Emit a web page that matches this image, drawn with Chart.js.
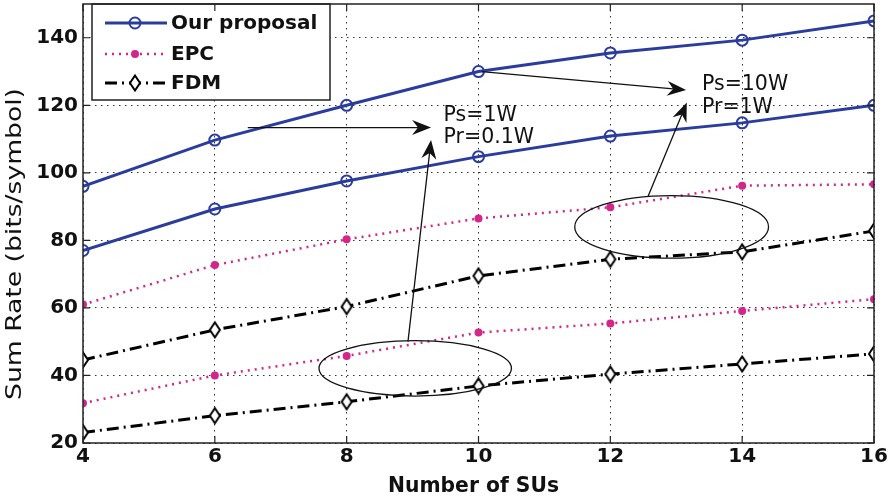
<!DOCTYPE html>
<html>
<head>
<meta charset="utf-8">
<script src="https://cdn.jsdelivr.net/npm/chart.js@4.4.1/dist/chart.umd.min.js"></script>
<style>
  html, body { margin: 0; padding: 0; background: #fff; }
  #wrap { width: 892px; height: 502px; }
</style>
</head>
<body>
<div id="wrap"><canvas id="c" width="892" height="502"></canvas></div>
<script>
// ---- data ----
const numSUs   = [4, 6, 8, 10, 12, 14, 16];
const ourHigh  = [96, 109.7, 120, 130, 135.5, 139.3, 145];   // Ps=10W, Pr=1W
const ourLow   = [77, 89.3, 97.6, 104.8, 110.9, 114.8, 120]; // Ps=1W, Pr=0.1W
const epcHigh  = [61, 72.7, 80.3, 86.5, 89.8, 96.2, 96.6];
const epcLow   = [31.8, 40, 45.8, 52.7, 55.4, 59.1, 62.6];
const fdmHigh  = [44.6, 53.5, 60.4, 69.5, 74.4, 76.6, 82.8];
const fdmLow   = [23.1, 28.1, 32.2, 36.9, 40.4, 43.4, 46.4];
const xTicks   = [4, 6, 8, 10, 12, 14, 16];
const yTicks   = [20, 40, 60, 80, 100, 120, 140];
const legendLabels = ['Our proposal', 'EPC', 'FDM'];
const xTitle = 'Number of SUs';
const yTitle = 'Sum Rate (bits/symbol)';
const calloutLow  = ['Ps=1W', 'Pr=0.1W'];
const calloutHigh = ['Ps=10W', 'Pr=1W'];

// ---- styles ----
const BLUE = '#2a3c9e';
const MAGENTA = '#d4268a';
const FONT = 'DejaVu Sans';

function diamondMarker() {
  const c = document.createElement('canvas');
  c.width = 16; c.height = 20;
  const g = c.getContext('2d');
  g.beginPath();
  g.moveTo(8, 2.5); g.lineTo(13, 10); g.lineTo(8, 17.5); g.lineTo(3, 10);
  g.closePath();
  g.fillStyle = '#fff'; g.fill();
  g.lineWidth = 2; g.strokeStyle = '#000'; g.stroke();
  return c;
}
const DIAMOND = diamondMarker();

const pts = arr => numSUs.map((x, i) => ({ x, y: arr[i] }));

const ourStyle = { borderColor: BLUE, borderWidth: 3, pointStyle: 'circle', pointRadius: 5.5,
  pointBorderWidth: 2, pointBorderColor: BLUE, pointBackgroundColor: 'rgba(0,0,0,0)', tension: 0 };
const epcStyle = { borderColor: MAGENTA, borderWidth: 2.5, borderDash: [2, 5], pointStyle: 'circle',
  pointRadius: 4, pointBorderWidth: 0, pointBackgroundColor: MAGENTA, tension: 0 };
const fdmStyle = { borderColor: '#000', borderWidth: 3, borderDash: [12, 5, 2, 5], pointStyle: DIAMOND,
  pointRadius: 8, tension: 0 };

const datasets = [
  Object.assign({ label: legendLabels[0], data: pts(ourHigh) }, ourStyle),
  Object.assign({ label: legendLabels[0] + ' (low)', data: pts(ourLow) }, ourStyle),
  Object.assign({ label: legendLabels[1], data: pts(epcHigh) }, epcStyle),
  Object.assign({ label: legendLabels[1] + ' (low)', data: pts(epcLow) }, epcStyle),
  Object.assign({ label: legendLabels[2], data: pts(fdmHigh) }, fdmStyle),
  Object.assign({ label: legendLabels[2] + ' (low)', data: pts(fdmLow) }, fdmStyle),
];

// ---- callouts (in data units) ----
const ellipses = [
  { cx: 9.04, cy: 42.1, rx: 1.46, ry: 8.2 },
  { cx: 12.93, cy: 84.0, rx: 1.47, ry: 9.27 },
];
const arrows = [
  { from: [6.5, 113.4], to: [9.28, 113.4] },
  { from: [10.05, 130.0], to: [13.15, 124.5] },
  { from: [8.93, 50.0], to: [9.28, 109.7] },
  { from: [12.57, 92.9], to: [13.16, 120.8] },
];
const callouts = [
  { x: 9.47, y: [115.4, 108.7], lines: calloutLow },
  { x: 13.39, y: [124.5, 117.8], lines: calloutHigh },
];

function drawArrow(ctx, x1, y1, x2, y2) {
  const ang = Math.atan2(y2 - y1, x2 - x1);
  const L = 19, W = 7.5, notch = 6;
  ctx.beginPath();
  ctx.moveTo(x1, y1);
  ctx.lineTo(x2 - Math.cos(ang) * (L - notch), y2 - Math.sin(ang) * (L - notch));
  ctx.stroke();
  ctx.save();
  ctx.translate(x2, y2);
  ctx.rotate(ang);
  ctx.beginPath();
  ctx.moveTo(0, 0);
  ctx.lineTo(-L, -W);
  ctx.lineTo(-L + notch, 0);
  ctx.lineTo(-L, W);
  ctx.closePath();
  ctx.fill();
  ctx.restore();
}

function stretchedText(ctx, text, font, targetW, x, y, rotate) {
  ctx.save();
  ctx.font = font;
  const w = ctx.measureText(text).width;
  ctx.translate(x, y);
  if (rotate) ctx.rotate(-Math.PI / 2);
  ctx.scale(targetW / w, 1);
  ctx.textAlign = 'center';
  ctx.textBaseline = 'middle';
  ctx.fillStyle = '#111';
  ctx.fillText(text, 0, 0);
  ctx.restore();
}

const decorations = {
  id: 'decorations',
  afterDatasetsDraw(chart) {
    const { ctx, chartArea: a, scales: { x, y } } = chart;
    ctx.save();
    // ellipses and arrows
    ctx.strokeStyle = '#111';
    ctx.fillStyle = '#111';
    ctx.lineWidth = 1.3;
    ellipses.forEach(e => {
      const cx = x.getPixelForValue(e.cx), cy = y.getPixelForValue(e.cy);
      const rx = Math.abs(x.getPixelForValue(e.cx + e.rx) - cx);
      const ry = Math.abs(y.getPixelForValue(e.cy + e.ry) - cy);
      ctx.beginPath();
      ctx.ellipse(cx, cy, rx, ry, 0, 0, Math.PI * 2);
      ctx.stroke();
    });
    arrows.forEach(ar => {
      drawArrow(ctx,
        x.getPixelForValue(ar.from[0]), y.getPixelForValue(ar.from[1]),
        x.getPixelForValue(ar.to[0]), y.getPixelForValue(ar.to[1]));
    });
    // callout text
    ctx.font = '20.5px ' + FONT;
    ctx.textAlign = 'left';
    ctx.textBaseline = 'alphabetic';
    callouts.forEach(c => {
      c.lines.forEach((t, i) => {
        ctx.fillText(t, x.getPixelForValue(c.x), y.getPixelForValue(c.y[i]));
      });
    });

    // legend box
    const bx = a.left + 9, by = a.top, bw = 238, bh = 96;
    ctx.fillStyle = '#fff';
    ctx.fillRect(bx, by, bw, bh);
    ctx.strokeStyle = '#222';
    ctx.lineWidth = 1.5;
    ctx.strokeRect(bx, by, bw, bh);
    const styles = [ourStyle, epcStyle, fdmStyle];
    const rowY = [a.top + 19, a.top + 50, a.top + 79];
    styles.forEach((s, i) => {
      const ly = rowY[i];
      const x0 = a.left + 22, x1 = a.left + 84, mx = a.left + 52;
      ctx.save();
      ctx.strokeStyle = s.borderColor;
      ctx.lineWidth = s.borderWidth;
      ctx.setLineDash(s.borderDash || []);
      ctx.beginPath(); ctx.moveTo(x0, ly); ctx.lineTo(x1, ly); ctx.stroke();
      ctx.setLineDash([]);
      if (s.pointStyle === 'circle') {
        ctx.beginPath(); ctx.arc(mx, ly, s.pointRadius, 0, Math.PI * 2);
        if (s.pointBorderWidth) {
          ctx.lineWidth = s.pointBorderWidth; ctx.strokeStyle = s.pointBorderColor; ctx.stroke();
        } else {
          ctx.fillStyle = s.pointBackgroundColor; ctx.fill();
        }
      } else {
        ctx.drawImage(s.pointStyle, mx - s.pointStyle.width / 2, ly - s.pointStyle.height / 2);
      }
      ctx.restore();
      ctx.fillStyle = '#111';
      ctx.font = 'bold 20px ' + FONT;
      ctx.textAlign = 'left';
      ctx.textBaseline = 'middle';
      ctx.fillText(legendLabels[i], a.left + 88, ly + 1);
    });
    ctx.restore();
  },
  afterDraw(chart) {
    const { ctx, chartArea: a, scales: { x, y } } = chart;
    ctx.save();
    // axes box
    ctx.strokeStyle = '#222';
    ctx.lineWidth = 1.5;
    ctx.strokeRect(a.left, a.top, a.right - a.left, a.bottom - a.top);
    // inward tick marks on all four sides
    const T = 7;
    ctx.beginPath();
    xTicks.forEach(v => {
      const px = x.getPixelForValue(v);
      ctx.moveTo(px, a.bottom); ctx.lineTo(px, a.bottom - T);
      ctx.moveTo(px, a.top); ctx.lineTo(px, a.top + T);
    });
    yTicks.forEach(v => {
      const py = y.getPixelForValue(v);
      ctx.moveTo(a.left, py); ctx.lineTo(a.left + T, py);
      ctx.moveTo(a.right, py); ctx.lineTo(a.right - T, py);
    });
    ctx.lineWidth = 1.2;
    ctx.stroke();
    // axis titles
    stretchedText(ctx, yTitle, '22px ' + FONT, 312, 15, 244, true);
    stretchedText(ctx, xTitle, 'bold 21px ' + FONT, 171, (a.left + a.right) / 2 - 5, 487, false);
    ctx.restore();
  }
};

const gridOpts = { color: '#333', lineWidth: 1, drawTicks: false };
const borderOpts = { display: false, dash: [1.5, 4.5] };
const tickFont = { family: FONT, size: 20, weight: 'bold' };

new Chart(document.getElementById('c'), {
  type: 'line',
  data: { datasets },
  options: {
    responsive: false,
    animation: false,
    devicePixelRatio: 1,
    layout: { autoPadding: false, padding: { top: 4, right: 18, left: 0, bottom: 0 } },
    plugins: { legend: { display: false }, tooltip: { enabled: false } },
    scales: {
      x: {
        type: 'linear', min: 4, max: 16,
        grid: gridOpts, border: borderOpts,
        afterBuildTicks: s => { s.ticks = xTicks.map(v => ({ value: v })); },
        afterFit: s => { s.height = 59; s.paddingLeft = 0; s.paddingRight = 0; },
        ticks: { font: tickFont, color: '#111', padding: 2, autoSkip: false, maxRotation: 0 }
      },
      y: {
        type: 'linear', min: 20, max: 150,
        grid: gridOpts, border: borderOpts,
        afterBuildTicks: s => { s.ticks = yTicks.map(v => ({ value: v })); },
        afterFit: s => { s.width = 83; s.paddingTop = 0; s.paddingBottom = 0; },
        ticks: { font: tickFont, color: '#111', padding: 5, autoSkip: false }
      }
    }
  },
  plugins: [decorations]
});
</script>
</body>
</html>
